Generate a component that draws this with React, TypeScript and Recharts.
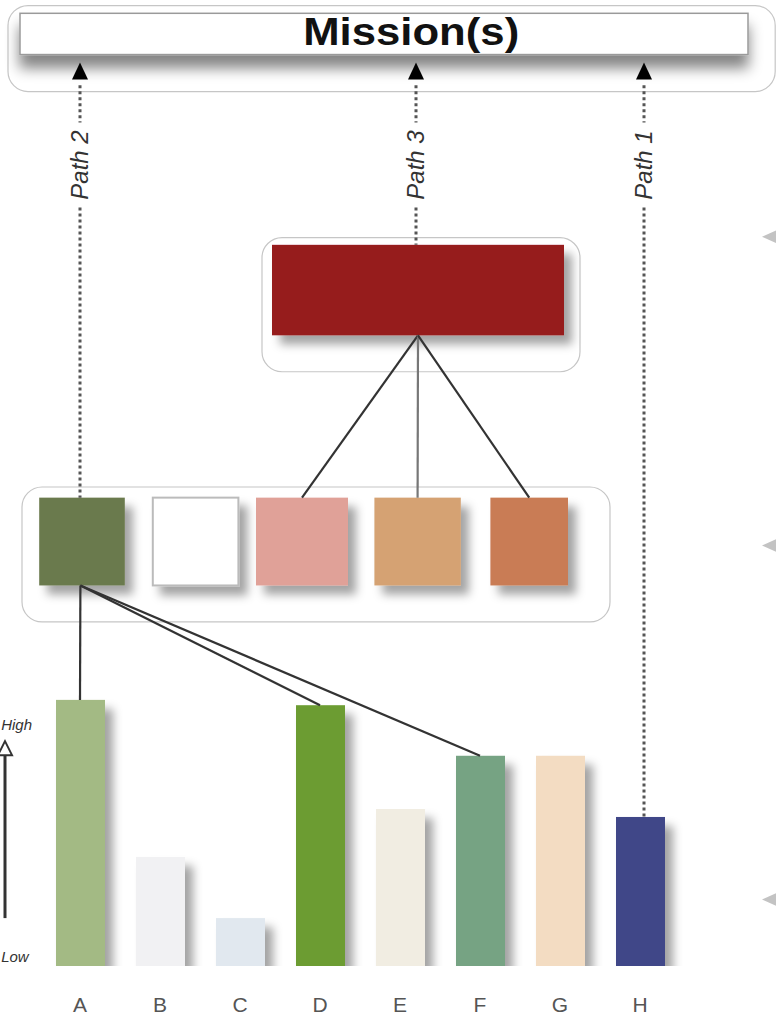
import React from 'react';
import {
  ComposedChart,
  Bar,
  Cell,
  XAxis,
  YAxis,
  ReferenceArea,
  ReferenceLine,
  ReferenceDot,
} from 'recharts';

// bottom tier: bars A..H
const categories = ['A', 'B', 'C', 'D', 'E', 'F', 'G', 'H'];
const levels = [100, 41, 18, 98, 59, 79, 79, 56];
const barColors = ['#a3ba84', '#f1f1f3', '#e1e8ef', '#6c9c30', '#f1ede2', '#76a383', '#f3dcc2', '#3f4688'];

// diagram units: x = bar slot (0 = A ... 7 = H), y = same scale as levels
const squareLeft = [-0.51, 0.91, 2.2, 3.68, 5.13];
const squareRight = [0.56, 1.98, 3.35, 4.76, 6.1];
const squareTop = 176;
const squareBottom = 143;
const squareColors = ['#6b7a4d', '#ffffff', '#e0a198', '#d5a273', '#c97b55'];

const redBox = { x1: 2.4, x2: 6.05, y1: 237, y2: 271 };
const redLinks = [2, 3, 4]; // squares fed by the red box
const greenLinks = [0, 3, 5]; // bars fed by the dark green square

const mission = { x1: -0.75, x2: 8.35, y1: 342.5, y2: 358 };
const pathNames = ['Path 2', 'Path 3', 'Path 1'];
const pathX = [0, 4.2, 7.05];
const pathEnds = [squareTop, redBox.y2, levels[7]];
const arrowTip = 339.5;
const dotStart = 331;
const labelY = 301;

const tierMarkers = [274, 158, 25];

const groups = [
  { x1: -0.9, x2: 8.69, y1: 328.6, y2: 360.9 },
  { x1: 2.275, x2: 6.25, y1: 223.3, y2: 273.7 },
  { x1: -0.725, x2: 6.625, y1: 129.3, y2: 180 },
];

const data = categories.map((name, i) => ({ name, slot: i, level: levels[i] }));

const square = (i: number) => (squareLeft[i] + squareRight[i]) / 2;
const redMid = (redBox.x1 + redBox.x2) / 2;

export default function App() {
  return (
    <div style={{ position: 'absolute', left: 0, top: 0, background: '#fff' }}>
      <ComposedChart
        width={776}
        height={1018}
        data={data}
        margin={{ top: 0, right: 0, bottom: 0, left: 0 }}
        style={{ fontFamily: 'Liberation Sans, Arial, sans-serif' }}
      >
        <defs>
          <filter id="shadow" x="-30%" y="-30%" width="170%" height="170%">
            <feDropShadow dx="8" dy="9" stdDeviation="5" floodColor="#000" floodOpacity="0.36" />
          </filter>
          <filter id="shadowDown" x="-10%" y="-50%" width="120%" height="260%">
            <feDropShadow dx="0" dy="13" stdDeviation="7" floodColor="#000" floodOpacity="0.48" />
          </filter>
        </defs>

        <XAxis
          dataKey="name"
          padding={{ left: 40, right: 96 }}
          axisLine={false}
          tickLine={false}
          interval={0}
          height={52}
          tickMargin={25}
          tick={{ fontSize: 21, fill: '#555' }}
        />
        <XAxis xAxisId="d" dataKey="slot" type="number" domain={[-1, 8.7]} allowDataOverflow hide />
        <YAxis type="number" domain={[0, 363]} allowDataOverflow hide />

        {groups.map((g, i) => (
          <ReferenceArea
            key={`g${i}`}
            xAxisId="d"
            x1={g.x1}
            x2={g.x2}
            y1={g.y1}
            y2={g.y2}
            ifOverflow="visible"
            shape={(p: any) => (
              <rect x={p.x} y={p.y} width={p.width} height={p.height} rx={20} fill="none" stroke="#c6c6c6" strokeWidth={1.2} />
            )}
          />
        ))}

        <ReferenceArea
          xAxisId="d"
          x1={mission.x1}
          x2={mission.x2}
          y1={mission.y1}
          y2={mission.y2}
          ifOverflow="visible"
          shape={(p: any) => (
            <rect x={p.x} y={p.y} width={p.width} height={p.height} fill="#fff" stroke="#9a9a9a" strokeWidth={1.5} filter="url(#shadowDown)" />
          )}
        />
        <ReferenceDot
          xAxisId="d"
          x={4.14}
          y={346}
          ifOverflow="visible"
          shape={(p: any) => (
            <text x={p.cx} y={p.cy} textAnchor="middle" fontSize={39} fontWeight="bold" fill="#111" textLength={216} lengthAdjust="spacingAndGlyphs">
              Mission(s)
            </text>
          )}
        />

        {pathNames.map((name, i) => (
          <ReferenceDot
            key={`arrow${i}`}
            xAxisId="d"
            x={pathX[i]}
            y={arrowTip}
            ifOverflow="visible"
            shape={(p: any) => (
              <polygon points={`${p.cx},${p.cy} ${p.cx - 8},${p.cy + 17} ${p.cx + 8},${p.cy + 17}`} fill="#000" />
            )}
          />
        ))}
        {pathNames.map((name, i) => (
          <ReferenceLine
            key={`pt${i}`}
            xAxisId="d"
            segment={[{ x: pathX[i], y: dotStart }, { x: pathX[i], y: labelY + 16 }]}
            stroke="#555"
            strokeWidth={3}
            strokeDasharray="3 3"
            ifOverflow="visible"
          />
        ))}
        {pathNames.map((name, i) => (
          <ReferenceLine
            key={`pb${i}`}
            xAxisId="d"
            segment={[{ x: pathX[i], y: labelY - 16 }, { x: pathX[i], y: pathEnds[i] }]}
            stroke="#555"
            strokeWidth={3}
            strokeDasharray="3 3"
            ifOverflow="visible"
          />
        ))}
        {pathNames.map((name, i) => (
          <ReferenceDot
            key={`pl${i}`}
            xAxisId="d"
            x={pathX[i]}
            y={labelY}
            ifOverflow="visible"
            shape={(p: any) => (
              <text
                x={p.cx}
                y={p.cy}
                transform={`rotate(-90 ${p.cx} ${p.cy})`}
                textAnchor="middle"
                dominantBaseline="central"
                fontSize={24}
                fontStyle="italic"
                fill="#333"
              >
                {name}
              </text>
            )}
          />
        ))}

        <ReferenceArea
          xAxisId="d"
          x1={redBox.x1}
          x2={redBox.x2}
          y1={redBox.y1}
          y2={redBox.y2}
          ifOverflow="visible"
          shape={(p: any) => (
            <rect x={p.x} y={p.y} width={p.width} height={p.height} fill="#961c1f" filter="url(#shadow)" />
          )}
        />
        {redLinks.map((s) => (
          <ReferenceLine
            key={`rl${s}`}
            xAxisId="d"
            segment={[{ x: redMid, y: redBox.y1 }, { x: square(s), y: squareTop }]}
            stroke={s === 3 ? '#777' : '#333'}
            strokeWidth={2.2}
            ifOverflow="visible"
          />
        ))}

        {squareColors.map((c, i) => (
          <ReferenceArea
            key={`sq${i}`}
            xAxisId="d"
            x1={squareLeft[i]}
            x2={squareRight[i]}
            y1={squareBottom}
            y2={squareTop}
            ifOverflow="visible"
            shape={(p: any) => (
              <rect
                x={p.x}
                y={p.y}
                width={p.width}
                height={p.height}
                fill={c}
                stroke={c === '#ffffff' ? '#bbb' : 'none'}
                strokeWidth={2}
                filter="url(#shadow)"
              />
            )}
          />
        ))}
        {greenLinks.map((b) => (
          <ReferenceLine
            key={`gl${b}`}
            xAxisId="d"
            segment={[{ x: square(0) - 0.02, y: squareBottom }, { x: b, y: levels[b] }]}
            stroke="#333"
            strokeWidth={2.2}
            ifOverflow="visible"
          />
        ))}

        <Bar
          dataKey="level"
          barSize={49}
          isAnimationActive={false}
          shape={(p: any) => (
            <rect x={p.x} y={p.y} width={p.width} height={p.height} fill={p.fill} filter="url(#shadow)" />
          )}
        >
          {data.map((d, i) => (
            <Cell key={d.name} fill={barColors[i]} />
          ))}
        </Bar>

        <ReferenceLine
          xAxisId="d"
          segment={[{ x: -0.9375, y: 18 }, { x: -0.9375, y: 80 }]}
          stroke="#333"
          strokeWidth={3}
          ifOverflow="visible"
        />
        <ReferenceDot
          xAxisId="d"
          x={-0.9375}
          y={84.5}
          ifOverflow="visible"
          shape={(p: any) => (
            <polygon points={`${p.cx},${p.cy} ${p.cx - 7},${p.cy + 14} ${p.cx + 7},${p.cy + 14}`} fill="#fff" stroke="#333" strokeWidth={2} />
          )}
        />
        <ReferenceDot
          xAxisId="d"
          x={-0.985}
          y={88.7}
          ifOverflow="visible"
          shape={(p: any) => (
            <text x={p.cx} y={p.cy} textAnchor="start" fontSize={15} fontStyle="italic" fill="#333">High</text>
          )}
        />
        <ReferenceDot
          xAxisId="d"
          x={-0.985}
          y={1.5}
          ifOverflow="visible"
          shape={(p: any) => (
            <text x={p.cx} y={p.cy} textAnchor="start" fontSize={15} fontStyle="italic" fill="#333">Low</text>
          )}
        />

        {tierMarkers.map((t, i) => (
          <ReferenceDot
            key={`tm${i}`}
            xAxisId="d"
            x={8.525}
            y={t}
            ifOverflow="visible"
            shape={(p: any) => (
              <polygon points={`${p.cx},${p.cy} ${p.cx + 18},${p.cy - 8} ${p.cx + 18},${p.cy + 8}`} fill="#c3c3c3" />
            )}
          />
        ))}
      </ComposedChart>
    </div>
  );
}
